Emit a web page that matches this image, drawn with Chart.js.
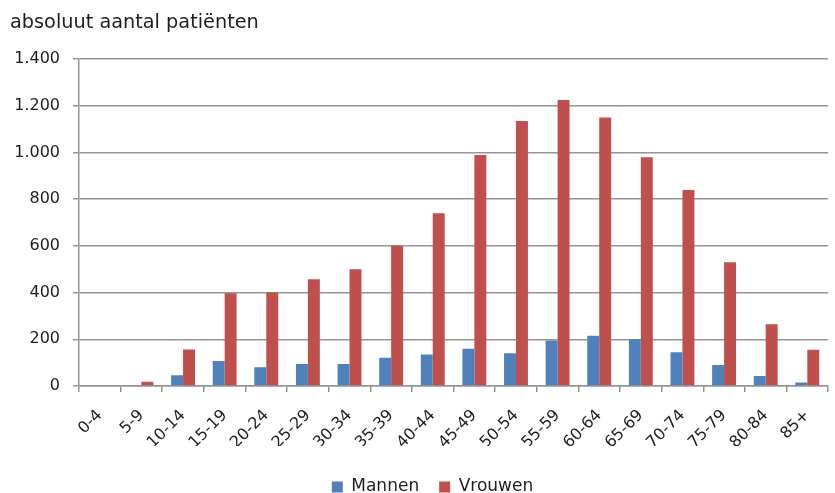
<!DOCTYPE html>
<html>
<head>
<meta charset="utf-8">
<script src="https://cdn.jsdelivr.net/npm/chart.js@4/dist/chart.umd.min.js"></script>
<style>
  html, body { margin: 0; padding: 0; background: #fff; }
  #wrap { width: 835px; height: 493px; position: relative; }
</style>
</head>
<body>
<div id="wrap"><canvas id="c" width="835" height="493"></canvas></div>
<script>
const categories = ['0-4','5-9','10-14','15-19','20-24','25-29','30-34','35-39','40-44','45-49','50-54','55-59','60-64','65-69','70-74','75-79','80-84','85+'];
const mannen  = [0, 0, 46, 107, 80, 94, 94, 121, 135, 160, 140, 195, 215, 200, 145, 90, 43, 15];
const vrouwen = [0, 18, 156, 397, 400, 457, 500, 601, 740, 990, 1135, 1225, 1150, 980, 840, 530, 265, 155];
const yTickLabels = ['0', '200', '400', '600', '800', '1.000', '1.200', '1.400'];
const titleText = 'absoluut aantal patiënten';
const seriesNames = ['Mannen', 'Vrouwen'];

const FONT = "'DejaVu Sans', sans-serif";
const TXT = '#1e1e1e';
const GRID = '#959595';

// nudge the legend block after layout (vertical / horizontal offset)
const legendNudge = {
  id: 'legendNudge',
  afterLayout(chart) {
    const lg = chart.legend;
    if (!lg) return;
    const dy = 12.5, dx = 12;
    lg.top += dy; lg.bottom += dy;
    lg.left += dx; lg.right += dx;
    if (lg.legendHitBoxes) lg.legendHitBoxes.forEach(h => { h.top += dy; h.left += dx; });
  }
};

new Chart(document.getElementById('c'), {
  type: 'bar',
  data: {
    labels: categories,
    datasets: [
      { label: seriesNames[0], data: mannen, backgroundColor: '#4F81BD', borderWidth: 0 },
      { label: seriesNames[1], data: vrouwen, backgroundColor: '#C0504D', borderWidth: 0 }
    ]
  },
  plugins: [legendNudge],
  options: {
    responsive: false,
    animation: false,
    devicePixelRatio: 1,
    layout: { padding: { left: 10, right: 4, top: 0, bottom: 0 } },
    datasets: { bar: { categoryPercentage: 0.574, barPercentage: 1.0 } },
    plugins: {
      title: {
        display: true, text: titleText, align: 'start', color: TXT,
        font: { family: FONT, size: 19.3, weight: 'normal' },
        padding: { top: 11, bottom: 25 }
      },
      legend: {
        position: 'bottom',
        labels: {
          color: TXT, boxWidth: 11, boxHeight: 11, padding: 20,
          font: { family: FONT, size: 17 }
        }
      },
      tooltip: { enabled: false }
    },
    scales: {
      x: {
        offset: true,
        grid: { display: true, drawOnChartArea: false, drawTicks: true, tickLength: 6, offset: true, color: GRID, lineWidth: 1.5 },
        border: { display: true, color: GRID, width: 1.5 },
        ticks: { color: TXT, font: { family: FONT, size: 16 }, minRotation: 45, maxRotation: 45, autoSkip: false, padding: 14 },
        afterFit: (s) => { s.height = 60; }
      },
      y: {
        min: 0, max: 1400,
        grid: { color: GRID, lineWidth: 1.5, tickLength: 6 },
        border: { display: true, color: GRID, width: 1.5 },
        ticks: {
          stepSize: 200, color: TXT, padding: 13,
          font: { family: FONT, size: 16 },
          callback: (v) => yTickLabels[Math.round(v / 200)]
        },
        afterFit: (s) => { s.width = 69; }
      }
    }
  }
});
</script>
</body>
</html>
